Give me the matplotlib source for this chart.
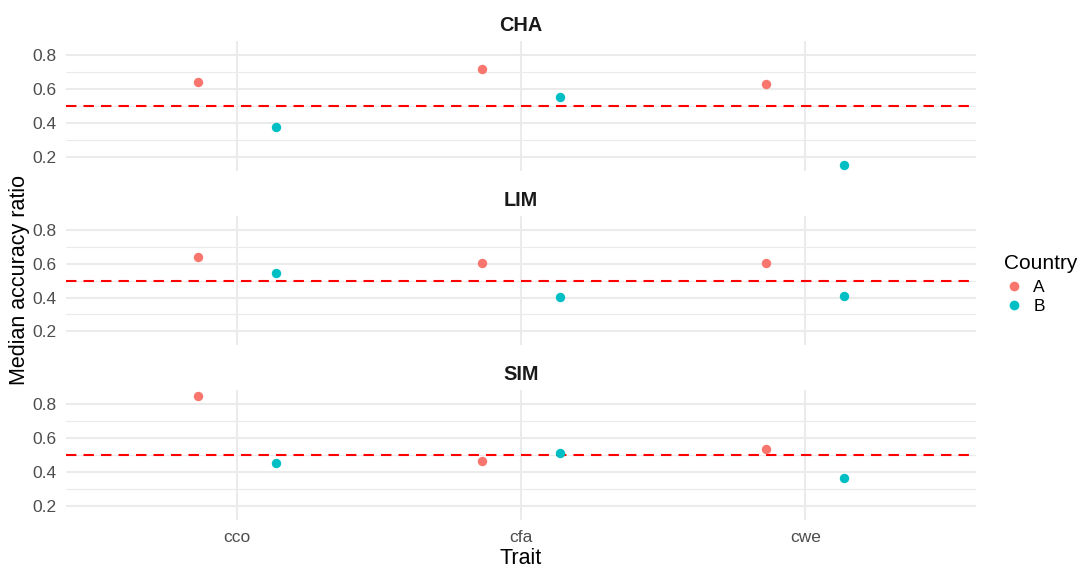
import matplotlib
matplotlib.use("Agg")
import matplotlib.pyplot as plt
from matplotlib.lines import Line2D
import numpy as np

# ---- data ----
panels = ["CHA", "LIM", "SIM"]
traits = ["cco", "cfa", "cwe"]
countries = ["A", "B"]
cha_A = [0.643, 0.717, 0.633]
cha_B = [0.377, 0.554, 0.153]
lim_A = [0.638, 0.605, 0.605]
lim_B = [0.548, 0.405, 0.411]
sim_A = [0.849, 0.464, 0.536]
sim_B = [0.454, 0.511, 0.363]
y_ticks = [0.2, 0.4, 0.6, 0.8]
y_ticklabels = ["0.2", "0.4", "0.6", "0.8"]
ref_line = 0.5

values = {"CHA": (cha_A, cha_B), "LIM": (lim_A, lim_B), "SIM": (sim_A, sim_B)}
colors = {"A": "#F8766D", "B": "#00BFC4"}
dodge = {"A": -0.137, "B": 0.137}

plt.rcParams["font.family"] = ["Liberation Sans", "DejaVu Sans"]

W, H = 1078, 568
fig = plt.figure(figsize=(W / 100, H / 100), dpi=100)

left, right = 66 / W, 976 / W
panel_px = [(41, 171), (216, 345), (390, 520)]

all_vals = np.concatenate([np.array(v) for p in panels for v in values[p]])
vmin, vmax = all_vals.min(), all_vals.max()
pad = 0.05 * (vmax - vmin)
ylim = (vmin - pad, vmax + pad)
x = np.arange(1, len(traits) + 1)

axes = []
for i, p in enumerate(panels):
    top, bot = panel_px[i]
    ax = fig.add_axes([left, 1 - bot / H, right - left, (bot - top) / H])
    axes.append(ax)
    ax.set_xlim(0.4, len(traits) + 0.6)
    ax.set_ylim(*ylim)
    for s in ax.spines.values():
        s.set_visible(False)
    # grid
    for t in [0.3, 0.5, 0.7]:
        ax.axhline(t, color="#EBEBEB", lw=0.8, zorder=0)
    for t in y_ticks:
        ax.axhline(t, color="#EBEBEB", lw=1.5, zorder=0)
    for xi in x:
        ax.axvline(xi, color="#EBEBEB", lw=1.5, zorder=0)
    ax.axhline(ref_line, color="#FF0000", lw=1.5, ls=(0, (5, 3.4)), zorder=1)
    for c, vals in zip(countries, values[p]):
        ax.scatter(x + dodge[c], vals, s=46, color=colors[c], zorder=3,
                   linewidths=0)
    ax.set_yticks(y_ticks)
    ax.set_yticklabels(y_ticklabels)
    ax.set_xticks(x)
    if i == len(panels) - 1:
        ax.set_xticklabels(traits)
    else:
        ax.set_xticklabels([])
    ax.tick_params(length=0, labelsize=12.5, labelcolor="#4D4D4D", pad=7)
    ax.set_title(p, fontsize=14.3, fontweight="bold", color="#1A1A1A", pad=7)

fig.text((left + right) / 2, 1 - 558 / H, "Trait", ha="center", va="center",
         fontsize=15.5, color="black")
fig.text(20 / W, 1 - 280 / H, "Median accuracy ratio", ha="center",
         va="center", rotation=90, fontsize=15.5, color="black")

handles = [Line2D([], [], marker="o", ls="", color=colors[c], markersize=7,
                  markeredgewidth=0) for c in countries]
leg = fig.legend(handles, countries, title="Country", loc="upper left",
                 bbox_to_anchor=(997 / W, 1 - 247 / H), frameon=False,
                 fontsize=12.5, title_fontsize=15, handletextpad=0.5,
                 labelspacing=0.2, borderaxespad=0, handlelength=1.2)
leg._legend_box.align = "left"
leg._legend_box.sep = 5

fig.savefig("out.png", dpi=100, facecolor="white")
